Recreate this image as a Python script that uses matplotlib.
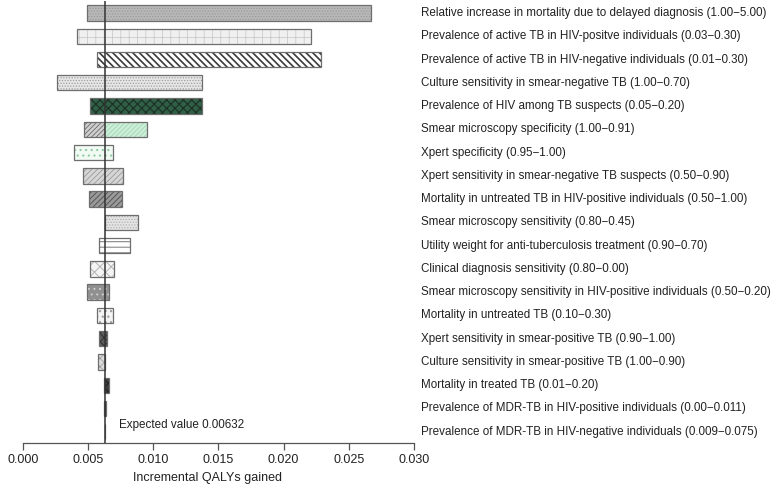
import matplotlib
matplotlib.use("Agg")
import matplotlib.pyplot as plt

plt.rcParams['font.family'] = ['Liberation Sans', 'DejaVu Sans']

expected_value = 0.00632

parameters = [
    "Relative increase in mortality due to delayed diagnosis (1.00\u22125.00)",
    "Prevalence of active TB in HIV-positve individuals (0.03\u22120.30)",
    "Prevalence of active TB in HIV-negative individuals (0.01\u22120.30)",
    "Culture sensitivity in smear-negative TB (1.00\u22120.70)",
    "Prevalence of HIV among TB suspects (0.05\u22120.20)",
    "Smear microscopy specificity (1.00\u22120.91)",
    "Xpert specificity (0.95\u22121.00)",
    "Xpert sensitivity in smear-negative TB suspects (0.50\u22120.90)",
    "Mortality in untreated TB in HIV-positive individuals (0.50\u22121.00)",
    "Smear microscopy sensitivity (0.80\u22120.45)",
    "Utility weight for anti-tuberculosis treatment (0.90\u22120.70)",
    "Clinical diagnosis sensitivity (0.80\u22120.00)",
    "Smear microscopy sensitivity in HIV-positive individuals (0.50\u22120.20)",
    "Mortality in untreated TB (0.10\u22120.30)",
    "Xpert sensitivity in smear-positive TB (0.90\u22121.00)",
    "Culture sensitivity in smear-positive TB (1.00\u22120.90)",
    "Mortality in treated TB (0.01\u22120.20)",
    "Prevalence of MDR-TB in HIV-positive individuals (0.00\u22120.011)",
    "Prevalence of MDR-TB in HIV-negative individuals (0.009\u22120.075)",
]

qaly_low = [0.00495, 0.00419, 0.00572, 0.00261, 0.00516, 0.00470, 0.00391,
            0.00465, 0.00508, 0.00631, 0.00583, 0.00518, 0.00493, 0.00572,
            0.00585, 0.00580, 0.00621, 0.00626, 0.00630]
qaly_high = [0.02671, 0.02210, 0.02290, 0.01373, 0.01377, 0.00956, 0.00695,
             0.00767, 0.00764, 0.00882, 0.00825, 0.00702, 0.00662, 0.00690,
             0.00649, 0.00631, 0.00660, 0.00639, 0.00634]

# (face colour, hatch, hatch colour, hatch line width) below / above the expected value
fill_low = [
    ('#b8b8b8', '......', '#9a9a9a', 0.6),
    ('#f0f0f0', '++', '#c4c4c4', 0.5),
    ('#ffffff', '\\\\\\\\\\', '#3a3a3a', 1.2),
    ('#e6e6e6', '......', '#a0a0a0', 0.6),
    ('#2f5f44', 'xxxx', '#1c2e24', 0.8),
    ('#cfcfcf', '///////', '#6a6a6a', 0.6),
    ('#f2faf4', '...', '#8fcaa3', 0.8),
    ('#d6d6d6', '//////', '#9a9a9a', 0.6),
    ('#9a9a9a', '//////', '#555555', 0.7),
    ('#e4e4e4', '......', '#b0b0b0', 0.6),
    ('#ffffff', '---', '#888888', 0.8),
    ('#f4f4f4', 'xxx', '#b4b4b4', 0.7),
    ('#909090', '...', '#cfcfcf', 0.7),
    ('#f4f4f4', '...', '#a0a0a0', 0.9),
    ('#5c5c5c', 'xxxx', '#2a2a2a', 0.6),
    ('#dcdcdc', 'xxxx', '#a0a0a0', 0.6),
    ('#3c3c3c', 'xxxx', '#1c1c1c', 0.6),
    ('#202020', '', '#202020', 0.6),
    ('#202020', '', '#202020', 0.6),
]
fill_high = list(fill_low)
fill_high[5] = ('#cdeed9', '///////', '#9fd8b4', 0.6)

edge_color = '#6e6e6e'
bar_height = 0.66

fig = plt.figure(figsize=(7.71, 4.84), dpi=100)
ax = fig.add_axes([22.7 / 771, 41 / 484, 391.3 / 771, 441.6 / 484])

rows = list(range(len(parameters)))
for i in rows:
    lo, hi = qaly_low[i], qaly_high[i]
    segments = [(lo, min(hi, expected_value), fill_low[i]),
                (max(lo, expected_value), hi, fill_high[i])]
    for start, end, (fc, hatch, hc, hlw) in segments:
        if end <= start:
            continue
        with plt.rc_context({'hatch.linewidth': hlw}):
            ax.barh(i, end - start, left=start, height=bar_height,
                    color=fc, hatch=hatch, edgecolor=hc, linewidth=0, zorder=2)
    ax.barh(i, hi - lo, left=lo, height=bar_height, fill=False,
            edgecolor=edge_color, linewidth=0.9, zorder=3)
    ax.text(1.018, i, parameters[i], transform=ax.get_yaxis_transform(),
            ha='left', va='center', fontsize=8.4, color='#222222')

ax.axvline(expected_value, color='#333333', linewidth=1.1, zorder=4)
ax.text(0.0074, 17.71, f"Expected value {expected_value}", fontsize=8.4,
        color='#222222', ha='left', va='center')

ax.set_xlim(0, 0.030)
ax.set_ylim(18.485, -0.5)
ax.set_xticks([0.000, 0.005, 0.010, 0.015, 0.020, 0.025, 0.030])
ax.set_xticklabels(["0.000", "0.005", "0.010", "0.015", "0.020", "0.025", "0.030"])
ax.set_yticks([])
for side in ('left', 'right', 'top'):
    ax.spines[side].set_visible(False)
ax.spines['bottom'].set_color('#555555')
ax.spines['bottom'].set_linewidth(0.9)
ax.tick_params(axis='x', direction='out', length=5, width=0.9,
               color='#555555', labelsize=9, labelcolor='#222222', pad=3)
ax.set_xlabel("Incremental QALYs gained", fontsize=9, color='#222222')
ax.xaxis.set_label_coords(0.472, -0.065)

fig.savefig("out.png", dpi=100)
